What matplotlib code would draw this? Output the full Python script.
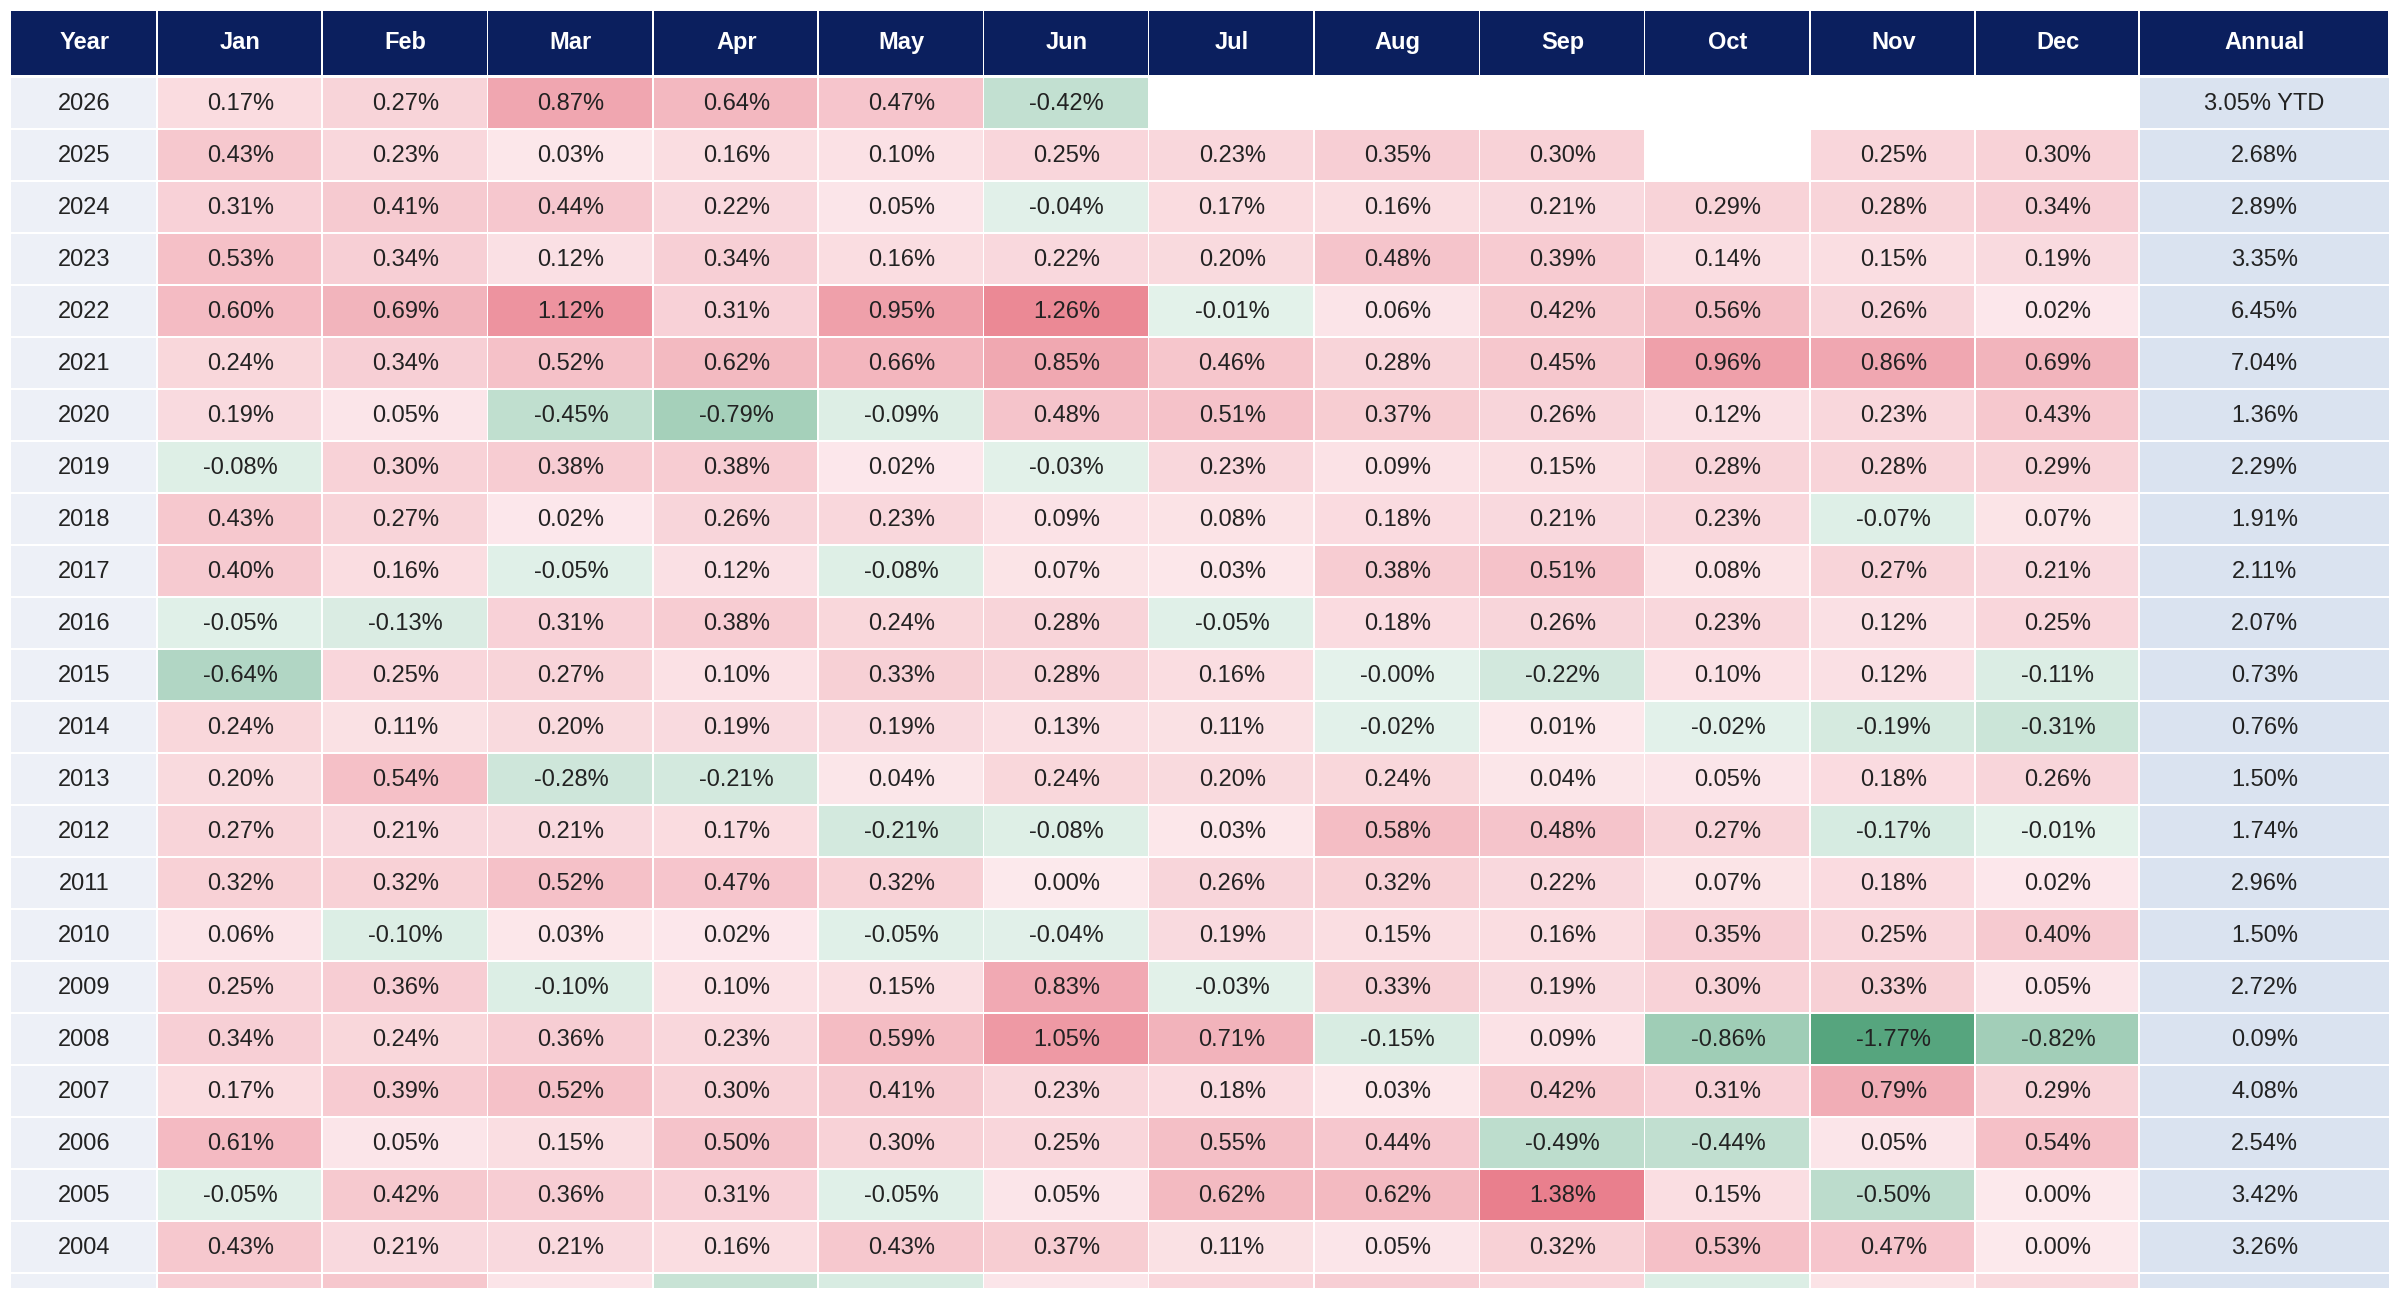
import matplotlib.pyplot as plt
import numpy as np
from matplotlib.patches import Rectangle

plt.rcParams['font.family'] = ['Liberation Sans', 'DejaVu Sans']

months = ['Jan', 'Feb', 'Mar', 'Apr', 'May', 'Jun', 'Jul', 'Aug', 'Sep', 'Oct', 'Nov', 'Dec']
years = list(range(2026, 2002, -1))
N = None
monthly = [
    [0.17, 0.27, 0.87, 0.64, 0.47, -0.42, N, N, N, N, N, N],
    [0.43, 0.23, 0.03, 0.16, 0.10, 0.25, 0.23, 0.35, 0.30, N, 0.25, 0.30],
    [0.31, 0.41, 0.44, 0.22, 0.05, -0.04, 0.17, 0.16, 0.21, 0.29, 0.28, 0.34],
    [0.53, 0.34, 0.12, 0.34, 0.16, 0.22, 0.20, 0.48, 0.39, 0.14, 0.15, 0.19],
    [0.60, 0.69, 1.12, 0.31, 0.95, 1.26, -0.01, 0.06, 0.42, 0.56, 0.26, 0.02],
    [0.24, 0.34, 0.52, 0.62, 0.66, 0.85, 0.46, 0.28, 0.45, 0.96, 0.86, 0.69],
    [0.19, 0.05, -0.45, -0.79, -0.09, 0.48, 0.51, 0.37, 0.26, 0.12, 0.23, 0.43],
    [-0.08, 0.30, 0.38, 0.38, 0.02, -0.03, 0.23, 0.09, 0.15, 0.28, 0.28, 0.29],
    [0.43, 0.27, 0.02, 0.26, 0.23, 0.09, 0.08, 0.18, 0.21, 0.23, -0.07, 0.07],
    [0.40, 0.16, -0.05, 0.12, -0.08, 0.07, 0.03, 0.38, 0.51, 0.08, 0.27, 0.21],
    [-0.05, -0.13, 0.31, 0.38, 0.24, 0.28, -0.05, 0.18, 0.26, 0.23, 0.12, 0.25],
    [-0.64, 0.25, 0.27, 0.10, 0.33, 0.28, 0.16, -0.001, -0.22, 0.10, 0.12, -0.11],
    [0.24, 0.11, 0.20, 0.19, 0.19, 0.13, 0.11, -0.02, 0.01, -0.02, -0.19, -0.31],
    [0.20, 0.54, -0.28, -0.21, 0.04, 0.24, 0.20, 0.24, 0.04, 0.05, 0.18, 0.26],
    [0.27, 0.21, 0.21, 0.17, -0.21, -0.08, 0.03, 0.58, 0.48, 0.27, -0.17, -0.01],
    [0.32, 0.32, 0.52, 0.47, 0.32, 0.00, 0.26, 0.32, 0.22, 0.07, 0.18, 0.02],
    [0.06, -0.10, 0.03, 0.02, -0.05, -0.04, 0.19, 0.15, 0.16, 0.35, 0.25, 0.40],
    [0.25, 0.36, -0.10, 0.10, 0.15, 0.83, -0.03, 0.33, 0.19, 0.30, 0.33, 0.05],
    [0.34, 0.24, 0.36, 0.23, 0.59, 1.05, 0.71, -0.15, 0.09, -0.86, -1.77, -0.82],
    [0.17, 0.39, 0.52, 0.30, 0.41, 0.23, 0.18, 0.03, 0.42, 0.31, 0.79, 0.29],
    [0.61, 0.05, 0.15, 0.50, 0.30, 0.25, 0.55, 0.44, -0.49, -0.44, 0.05, 0.54],
    [-0.05, 0.42, 0.36, 0.31, -0.05, 0.05, 0.62, 0.62, 1.38, 0.15, -0.50, 0.00],
    [0.43, 0.21, 0.21, 0.16, 0.43, 0.37, 0.11, 0.05, 0.32, 0.53, 0.47, 0.00],
    [0.35, 0.45, 0.06, -0.35, -0.15, 0.05, 0.25, 0.35, 0.25, -0.10, 0.08, 0.20],
]
annual = ['3.05% YTD', '2.68%', '2.89%', '3.35%', '6.45%', '7.04%', '1.36%', '2.29%',
          '1.91%', '2.11%', '2.07%', '0.73%', '0.76%', '1.50%', '1.74%', '2.96%',
          '1.50%', '2.72%', '0.09%', '4.08%', '2.54%', '3.42%', '3.26%', '']


def cell_color(v):
    if v is None:
        return 'white'
    if v >= 0:
        lo, hi, t = np.array([252, 233, 236]), np.array([232, 122, 136]), min(v / 1.45, 1)
    else:
        lo, hi, t = np.array([228, 242, 235]), np.array([84, 164, 124]), min(-v / 1.8, 1)
    return tuple((lo + (hi - lo) * t) / 255)


fig = plt.figure(figsize=(24, 13), dpi=100)
ax = fig.add_axes([0, 0, 1, 1])
ax.set_xlim(0, 1568)
ax.set_ylim(850, 0)
ax.axis('off')

edges = [7, 103, 211, 319, 427, 535, 643, 751, 859, 967, 1075, 1183, 1291, 1398, 1561]
navy = '#0b1f5e'
fs = 17
gap = 1

# header
headers = ['Year'] + months + ['Annual']
for i, h in enumerate(headers):
    x0, x1 = edges[i], edges[i + 1]
    ax.add_patch(Rectangle((x0, 7), x1 - x0 - gap, 42, color=navy, lw=0))
    ax.text((x0 + x1) / 2, 28, h, color='white', fontsize=fs, fontweight='bold',
            ha='center', va='center')

row_h = 34
y_start = 51
for r, yr in enumerate(years):
    y0 = y_start + r * row_h
    h = row_h - gap
    if y0 + h > 842:
        h = 842 - y0
    show = y0 + row_h <= 842
    ax.add_patch(Rectangle((edges[0], y0), edges[1] - edges[0] - gap, h, color='#edf0f7', lw=0))
    if show:
        ax.text((edges[0] + edges[1]) / 2, y0 + 17, str(yr), fontsize=fs, ha='center',
                va='center', color='#222222')
    for c, v in enumerate(monthly[r]):
        x0, x1 = edges[c + 1], edges[c + 2]
        ax.add_patch(Rectangle((x0, y0), x1 - x0 - gap, h, color=cell_color(v), lw=0))
        if v is not None and show:
            ax.text((x0 + x1) / 2, y0 + 17, f'{v:.2f}%', fontsize=fs, ha='center',
                    va='center', color='#222222')
    ax.add_patch(Rectangle((edges[13], y0), edges[14] - edges[13], h, color='#dae3f0', lw=0))
    if show:
        ax.text((edges[13] + edges[14]) / 2, y0 + 17, annual[r], fontsize=fs, ha='center',
                va='center', color='#222222')

fig.savefig('out.png', dpi=100)
